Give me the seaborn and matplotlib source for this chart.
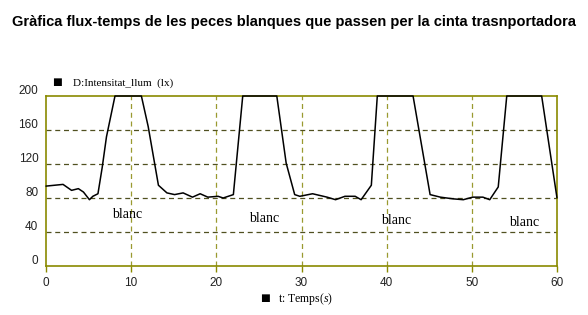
import matplotlib
matplotlib.use("Agg")
import matplotlib.pyplot as plt
import matplotlib.transforms as mtransforms
import seaborn as sns
import pandas as pd

# Data
temps = [0, 1, 2, 3, 3.8, 4.4, 5.1, 5.5, 6.1, 6.6, 7.1, 8.1, 11.2, 12, 13.2, 14.2,
         15.1, 16.1, 17.2, 18.1, 19, 20.2, 20.8, 22, 23.1, 27.1, 28.2, 29.2, 29.8,
         31.3, 33, 34, 35.1, 36.3, 37, 38.2, 38.9, 43.1, 45.1, 46.3, 47.8, 49, 50.1,
         51.3, 52.1, 53.1, 54.1, 58.2, 60]
intensitat = [94, 95, 96, 89, 91, 87, 78, 82, 85, 116, 152, 200, 200, 164, 95, 86,
              84, 86, 81, 85, 81, 82, 80, 84, 200, 200, 121, 84, 82,
              85, 81, 78, 82, 82, 78, 95, 200, 200, 84, 81, 79, 78, 81,
              81, 78, 93, 200, 200, 80]
etiquetes_x = [9.5, 25.6, 41.1, 56.1]
etiquetes_y = [60, 56, 54, 51]
etiquetes = ["blanc", "blanc", "blanc", "blanc"]
xticks = [0, 10, 20, 30, 40, 50, 60]
yticks = [0, 40, 80, 120, 160, 200]

sns.set_theme(style="white")
plt.rcParams['font.family'] = ['Liberation Sans', 'DejaVu Sans']
plt.rcParams['mathtext.fontset'] = 'custom'
plt.rcParams['mathtext.it'] = 'Liberation Serif:italic'
plt.rcParams['mathtext.rm'] = 'Liberation Serif'

fig = plt.figure(figsize=(5.88, 3.15), dpi=100)
ax = fig.add_axes([46/588, 1-266/315, (557-46)/588, (266-96)/315])

df = pd.DataFrame({"t": temps, "I": intensitat})
sns.lineplot(data=df, x="t", y="I", sort=False, color="black", linewidth=1.1,
             ax=ax, zorder=5, clip_on=False)

ax.set_xlim(0, 60)
ax.set_ylim(0, 200)
ax.set_xlabel("")
ax.set_ylabel("")
ax.set_xticks(xticks)
ax.set_yticks(yticks)

olive = "#8a8a00"
for s in ax.spines.values():
    s.set_color(olive)
    s.set_linewidth(1.2)
    s.set_visible(True)

for xv in xticks[1:-1]:
    ax.axvline(xv, color="#9a9a30", linestyle=(0, (4, 3)), linewidth=0.9, zorder=1)
for yv in yticks[1:-1]:
    ax.axhline(yv, color="#505020", linestyle=(0, (4, 3)), linewidth=0.9, zorder=1)

ax.tick_params(axis='x', length=4, width=1, color=olive, labelsize=8.5, pad=4,
               direction='out', bottom=True)
ax.tick_params(axis='y', length=0, labelsize=8.5, pad=5.5, left=False)
offset = mtransforms.ScaledTranslation(0, 5/72, fig.dpi_scale_trans)
for lbl in ax.get_yticklabels():
    lbl.set_transform(lbl.get_transform() + offset)
for lbl in ax.get_xticklabels() + ax.get_yticklabels():
    lbl.set_color("#222222")

for x, y, s in zip(etiquetes_x, etiquetes_y, etiquetes):
    ax.text(x, y, s, ha="center", va="center", fontsize=10,
            family=["Liberation Serif", "DejaVu Serif"], color="black", zorder=6)

fig.text(294/588, 1-22/315, "Gràfica flux-temps de les peces blanques que passen per la cinta trasnportadora",
         ha="center", va="center", fontsize=10.5, fontweight="bold", color="black")

# legend-like labels
fig.text(57/588, 1-82/315, "■", ha="center", va="center", fontsize=7.5,
         family=["DejaVu Sans"], color="black")
fig.text(73/588, 1-83/315, "D:Intensitat_llum  (lx)", ha="left", va="center", fontsize=8,
         family=["Liberation Serif", "DejaVu Serif"], color="black")
fig.text(265/588, 1-298/315, "■", ha="center", va="center", fontsize=7.5,
         family=["DejaVu Sans"], color="black")
fig.text(278/588, 1-299/315, r"t: Temps($s$)", ha="left", va="center", fontsize=8.5,
         family=["Liberation Serif", "DejaVu Serif"], color="black")

fig.savefig("out.png", dpi=100)
